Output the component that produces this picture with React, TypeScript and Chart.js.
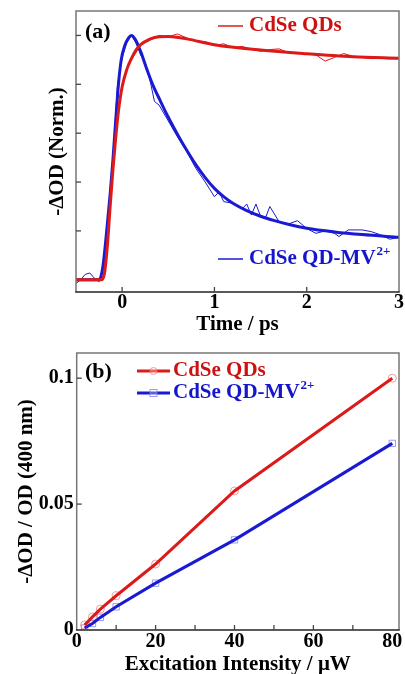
import React, { useEffect, useRef } from "react";
import { Chart, registerables } from "chart.js";
Chart.register(...registerables);

// ---------- Panel (a): normalized kinetics ----------
const timeTicks = [0, 1, 2, 3];
const timeTickLabels = ["0", "1", "2", "3"];
const timeTickMarks = [0, 1, 2];
const normTickMarks = [0.2, 0.4, 0.6, 0.8, 1.0];

const qdFitT = [-0.5, -0.22, -0.19, -0.16, -0.13, -0.1, -0.07, -0.04, 0.0, 0.05, 0.1, 0.15, 0.2, 0.3, 0.4, 0.5, 0.7, 1.0, 1.5, 2.0, 2.5, 3.0];
const qdFitV = [0, 0, 0.03, 0.14, 0.3, 0.45, 0.58, 0.69, 0.79, 0.86, 0.905, 0.94, 0.962, 0.985, 0.995, 0.996, 0.986, 0.962, 0.94, 0.925, 0.913, 0.907];

const qdRawT = [-0.5, -0.4, -0.3, -0.25, -0.2, -0.15, -0.1, -0.05, 0.0, 0.05, 0.1, 0.2, 0.3, 0.4, 0.5, 0.6, 0.7, 0.8, 0.9, 1.0, 1.1, 1.2, 1.3, 1.4, 1.5, 1.6, 1.7, 1.8, 1.9, 2.0, 2.1, 2.2, 2.3, 2.4, 2.5, 2.6, 2.7, 2.8, 2.9, 3.0];
const qdRawV = [0.0, 0.0, 0.0, 0.0, 0.02, 0.2, 0.47, 0.68, 0.8, 0.86, 0.9, 0.96, 0.98, 1.0, 0.995, 1.006, 0.99, 0.975, 0.975, 0.958, 0.966, 0.95, 0.955, 0.944, 0.935, 0.942, 0.945, 0.93, 0.928, 0.925, 0.92, 0.895, 0.91, 0.926, 0.915, 0.91, 0.905, 0.906, 0.904, 0.905];

const mvFitT = [-0.5, -0.25, -0.21, -0.17, -0.13, -0.1, -0.07, -0.04, -0.01, 0.03, 0.07, 0.1, 0.14, 0.2, 0.26, 0.33, 0.41, 0.5, 0.6, 0.7, 0.8, 0.9, 1.0, 1.1, 1.2, 1.35, 1.5, 1.65, 1.82, 2.0, 2.3, 2.6, 3.0];
const mvFitV = [0, 0, 0.05, 0.19, 0.35, 0.49, 0.65, 0.8, 0.9, 0.96, 0.99, 1.0, 0.985, 0.935, 0.87, 0.8, 0.735, 0.665, 0.595, 0.53, 0.47, 0.418, 0.374, 0.34, 0.313, 0.283, 0.26, 0.242, 0.225, 0.211, 0.196, 0.185, 0.174];

const mvRawT = [-0.5, -0.45, -0.4, -0.35, -0.3, -0.25, -0.2, -0.15, -0.1, -0.05, 0.0, 0.05, 0.1, 0.15, 0.2, 0.25, 0.3, 0.35, 0.4, 0.5, 0.6, 0.7, 0.8, 0.9, 1.0, 1.05, 1.1, 1.2, 1.3, 1.35, 1.4, 1.45, 1.5, 1.55, 1.6, 1.7, 1.8, 1.9, 2.0, 2.1, 2.2, 2.3, 2.35, 2.45, 2.6, 2.7, 2.8, 2.9, 3.0];
const mvRawV = [-0.015, 0.0, 0.022, 0.028, 0.006, -0.008, 0.054, 0.22, 0.49, 0.8, 0.91, 0.97, 1.0, 0.97, 0.92, 0.89, 0.82, 0.73, 0.715, 0.65, 0.585, 0.525, 0.455, 0.4, 0.34, 0.36, 0.32, 0.313, 0.29, 0.31, 0.265, 0.31, 0.26, 0.25, 0.3, 0.238, 0.228, 0.242, 0.21, 0.19, 0.2, 0.19, 0.177, 0.204, 0.204, 0.197, 0.184, 0.166, 0.174];

// ---------- Panel (b): intensity dependence ----------
const intensity = [2, 4, 6, 10, 20, 40, 80];
const qdSignal = [0.002, 0.0052, 0.0083, 0.0136, 0.0262, 0.0552, 0.1];
const mvSignal = [0.0008, 0.0026, 0.005, 0.0092, 0.0186, 0.0358, 0.0741];
const intensityTicks = [0, 20, 40, 60, 80];
const intensityTickLabels = ["0", "20", "40", "60", "80"];
const intensityTickMarks = [10, 20, 30, 40, 50, 60, 70];
const signalTicks = [0, 0.05, 0.1];
const signalTickLabels = ["0", "0.05", "0.1"];
const signalTickMarks = [0.05, 0.1];

const seriesNames = ["CdSe QDs", "CdSe QD-MV"];
const seriesSup = ["", "2+"];

const FONT = '"Liberation Serif", "Times New Roman", serif';
const RED = "#dc1a1a";
const BLUE = "#1a1ad2";
const RED_TXT = "#cc1111";
const BLUE_TXT = "#1515cc";
const RED_LIGHT = "rgba(240,120,120,0.75)";
const BLUE_LIGHT = "rgba(130,130,240,0.8)";

const pts = (xs: number[], ys: number[]) => xs.map((x, i) => ({ x, y: ys[i] }));

function framePlugin(xMarks: number[], yMarks: number[]) {
  return {
    id: "frame",
    afterDatasetsDraw(chart: any) {
      const { ctx, chartArea } = chart;
      const { left, right, top, bottom } = chartArea;
      const xs = chart.scales.x;
      const ys = chart.scales.y;
      ctx.save();
      ctx.lineWidth = 1.5;
      ctx.strokeStyle = "#777";
      ctx.beginPath();
      ctx.moveTo(left, bottom);
      ctx.lineTo(left, top);
      ctx.lineTo(right, top);
      ctx.lineTo(right, bottom);
      ctx.stroke();
      ctx.strokeStyle = "#222";
      ctx.beginPath();
      ctx.moveTo(left - 0.75, bottom);
      ctx.lineTo(right + 0.75, bottom);
      ctx.stroke();
      ctx.strokeStyle = "#444";
      ctx.lineWidth = 1.3;
      xMarks.forEach((v) => {
        const px = xs.getPixelForValue(v);
        ctx.beginPath();
        ctx.moveTo(px, bottom);
        ctx.lineTo(px, bottom - 5);
        ctx.stroke();
      });
      yMarks.forEach((v) => {
        const py = ys.getPixelForValue(v);
        ctx.beginPath();
        ctx.moveTo(left, py);
        ctx.lineTo(left + 5, py);
        ctx.stroke();
      });
      ctx.restore();
    },
  };
}

type LegendItem = {
  x0: number; x1: number; y: number; lw: number; color: string; textColor: string;
  marker: string | null; markerColor: string; label: string; sup: string;
};

function legendPlugin(panelLabel: string, items: LegendItem[], textX: number) {
  return {
    id: "customLegend",
    afterDraw(chart: any) {
      const ctx = chart.ctx;
      ctx.save();
      ctx.textBaseline = "middle";
      ctx.textAlign = "left";
      ctx.fillStyle = "#000";
      ctx.font = `bold 22px ${FONT}`;
      ctx.fillText(panelLabel, 85, 32);
      items.forEach((it) => {
        ctx.strokeStyle = it.color;
        ctx.lineWidth = it.lw;
        ctx.beginPath();
        ctx.moveTo(it.x0, it.y);
        ctx.lineTo(it.x1, it.y);
        ctx.stroke();
        if (it.marker) {
          const cx = (it.x0 + it.x1) / 2;
          ctx.strokeStyle = it.markerColor;
          ctx.lineWidth = 1;
          ctx.fillStyle = "rgba(255,255,255,0.3)";
          if (it.marker === "circle") {
            ctx.beginPath();
            ctx.arc(cx, it.y, 3.5, 0, Math.PI * 2);
            ctx.fill();
            ctx.stroke();
          } else {
            ctx.fillRect(cx - 3.5, it.y - 3.5, 7, 7);
            ctx.strokeRect(cx - 3.5, it.y - 3.5, 7, 7);
          }
        }
        ctx.fillStyle = it.textColor;
        ctx.font = `bold 21px ${FONT}`;
        ctx.fillText(it.label, textX, it.y);
        if (it.sup) {
          const w = ctx.measureText(it.label).width;
          ctx.font = `bold 13px ${FONT}`;
          ctx.fillText(it.sup, textX + w + 1, it.y - 7);
        }
      });
      ctx.restore();
    },
  };
}

const tickFont = { family: FONT, size: 20, weight: "bold" as const, lineHeight: 1 };
const titleFont = { family: FONT, size: 21, weight: "bold" as const, lineHeight: 1 };

export default function App() {
  const refA = useRef<HTMLCanvasElement>(null);
  const refB = useRef<HTMLCanvasElement>(null);

  useEffect(() => {
    const chartA = new Chart(refA.current!, {
      type: "line",
      data: {
        datasets: [
          { data: pts(qdFitT, qdFitV), borderColor: RED, borderWidth: 3, pointRadius: 0, cubicInterpolationMode: "monotone", order: 0 },
          { data: pts(mvFitT, mvFitV), borderColor: BLUE, borderWidth: 3, pointRadius: 0, cubicInterpolationMode: "monotone", order: 0 },
          { data: pts(qdRawT, qdRawV), borderColor: RED, borderWidth: 1, pointRadius: 0, tension: 0, order: 1 },
          { data: pts(mvRawT, mvRawV), borderColor: BLUE, borderWidth: 1, pointRadius: 0, tension: 0, order: 1 },
        ],
      } as any,
      options: {
        animation: false,
        responsive: false,
        events: [],
        layout: { padding: { top: 11, right: 6, left: 0, bottom: 0 } },
        plugins: { legend: { display: false }, tooltip: { enabled: false } },
        scales: {
          x: {
            type: "linear",
            min: -0.5,
            max: 3,
            grid: { display: false, drawTicks: false },
            border: { display: false },
            afterBuildTicks: (s: any) => { s.ticks = timeTicks.map((v) => ({ value: v })); },
            ticks: {
              autoSkip: false, maxRotation: 0, color: "#000", font: tickFont, padding: 1,
              callback: (v: any) => timeTickLabels[timeTicks.indexOf(Number(v))],
            },
            title: { display: true, text: "Time / ps", color: "#000", font: titleFont, padding: { top: 0, bottom: 4.5 } },
            afterFit: (s: any) => { s.height = 48; },
          },
          y: {
            type: "linear",
            min: -0.05,
            max: 1.1,
            grid: { display: false, drawTicks: false },
            border: { display: false },
            ticks: { display: false },
            title: { display: true, text: "-ΔOD (Norm.)", color: "#000", font: titleFont, padding: { top: 47.5, bottom: 0 } },
            afterFit: (s: any) => { s.width = 76; },
          },
        },
      } as any,
      plugins: [
        framePlugin(timeTickMarks, normTickMarks),
        legendPlugin("(a)", [
          { x0: 218, x1: 243, y: 26, lw: 1.5, color: RED, textColor: RED_TXT, marker: null, markerColor: "", label: seriesNames[0], sup: seriesSup[0] },
          { x0: 218, x1: 243, y: 259, lw: 1.5, color: BLUE, textColor: BLUE_TXT, marker: null, markerColor: "", label: seriesNames[1], sup: seriesSup[1] },
        ], 249),
      ],
    });

    const chartB = new Chart(refB.current!, {
      type: "line",
      data: {
        datasets: [
          { data: pts(intensity, qdSignal), borderColor: RED, borderWidth: 3, pointRadius: 0, tension: 0, order: 0 },
          { data: pts(intensity, mvSignal), borderColor: BLUE, borderWidth: 3, pointRadius: 0, tension: 0, order: 0 },
          { data: pts(intensity, qdSignal), showLine: false, pointStyle: "circle", pointRadius: 4, pointBorderWidth: 1, pointBorderColor: RED_LIGHT, pointBackgroundColor: "rgba(255,255,255,0)", order: 1 },
          { data: pts(intensity, mvSignal), showLine: false, pointStyle: "rect", pointRadius: 4.5, pointBorderWidth: 1, pointBorderColor: BLUE_LIGHT, pointBackgroundColor: "rgba(255,255,255,0)", order: 1 },
        ],
      } as any,
      options: {
        animation: false,
        responsive: false,
        events: [],
        layout: { padding: { top: 11, right: 6, left: 0, bottom: 0 } },
        plugins: { legend: { display: false }, tooltip: { enabled: false } },
        scales: {
          x: {
            type: "linear",
            min: 0,
            max: 81.7,
            grid: { display: false, drawTicks: false },
            border: { display: false },
            afterBuildTicks: (s: any) => { s.ticks = intensityTicks.map((v) => ({ value: v })); },
            ticks: {
              autoSkip: false, maxRotation: 0, color: "#000", font: tickFont, padding: 2,
              callback: (v: any) => intensityTickLabels[intensityTicks.indexOf(Number(v))],
            },
            title: { display: true, text: "Excitation Intensity / μW", color: "#000", font: titleFont, padding: { top: 0, bottom: -1.5 } },
            afterFit: (s: any) => { s.height = 44; },
          },
          y: {
            type: "linear",
            min: 0,
            max: 0.11,
            grid: { display: false, drawTicks: false },
            border: { display: false },
            afterBuildTicks: (s: any) => { s.ticks = signalTicks.map((v) => ({ value: v })); },
            ticks: {
              autoSkip: false, color: "#000", font: tickFont, padding: 3,
              callback: (v: any) => signalTickLabels[signalTicks.indexOf(Number(v))],
            },
            title: { display: true, text: "-ΔOD / OD (400 nm)", color: "#000", font: titleFont, padding: { top: 16.5, bottom: 0 } },
            afterFit: (s: any) => { s.width = 76.7; },
          },
        },
      } as any,
      plugins: [
        framePlugin(intensityTickMarks, signalTickMarks),
        legendPlugin("(b)", [
          { x0: 137, x1: 170, y: 31, lw: 3, color: RED, textColor: RED_TXT, marker: "circle", markerColor: RED_LIGHT, label: seriesNames[0], sup: seriesSup[0] },
          { x0: 137, x1: 170, y: 53, lw: 3, color: BLUE, textColor: BLUE_TXT, marker: "square", markerColor: BLUE_LIGHT, label: seriesNames[1], sup: seriesSup[1] },
        ], 173),
      ],
    });

    return () => {
      chartA.destroy();
      chartB.destroy();
    };
  }, []);

  return (
    <div style={{ position: "fixed", left: 0, top: 0, width: 405, height: 674, background: "#fff", overflow: "hidden" }}>
      <canvas ref={refA} width={405} height={340} style={{ display: "block" }} />
      <canvas ref={refB} width={405} height={334} style={{ display: "block" }} />
    </div>
  );
}
